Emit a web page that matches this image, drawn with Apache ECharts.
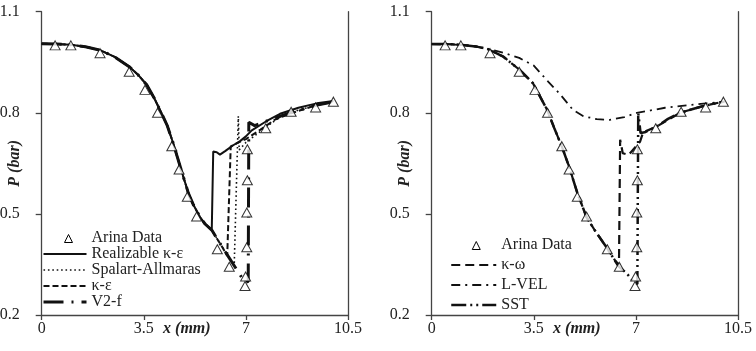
<!DOCTYPE html>
<html>
<head>
<meta charset="utf-8">
<script src="https://cdn.jsdelivr.net/npm/echarts@6/dist/echarts.min.js"></script>
<style>
html,body{margin:0;padding:0;background:#fff;}
#c{width:756px;height:351px;}
</style>
</head>
<body>
<div id="c"></div>
<script>
// ---- data ----
const xTicks = [0, 3.5, 7, 10.5];
const yTicks = [0.2, 0.5, 0.8, 1.1];

const arinaData = [
  [0.46,1.0],[1.0,1.0],[2.0,0.977],[3.0,0.922],[3.54,0.868],[3.97,0.80],[4.46,0.701],
  [4.71,0.632],[4.99,0.551],[5.31,0.492],[6.02,0.395],[6.43,0.343],[6.99,0.314],
  [6.97,0.286],[7.03,0.401],[7.03,0.504],[7.05,0.60],[7.05,0.692],[7.68,0.754],
  [8.55,0.803],[9.39,0.816],[10.0,0.833]
];

const realizableKE = [
  [0,1.005],[0.5,1.004],[1.0,1.002],[1.5,0.996],[2.0,0.986],[2.5,0.966],[3.0,0.937],
  [3.3,0.913],[3.6,0.883],[3.85,0.845],[4.1,0.80],[4.3,0.763],[4.5,0.712],[4.75,0.64],
  [5.03,0.561],[5.2,0.527],[5.43,0.49],[5.6,0.47],[5.83,0.452],[5.88,0.685],[6.0,0.683],
  [6.11,0.676],[6.3,0.687],[6.55,0.703],[6.8,0.716],[7.0,0.73],[7.2,0.748],[7.7,0.775],
  [8.17,0.797],[8.8,0.815],[9.43,0.828],[10.0,0.835]
];
const spalartAllmaras = [
  [0,1.005],[0.5,1.004],[1.0,1.002],[1.5,0.996],[2.0,0.986],[2.5,0.966],[3.0,0.937],
  [3.3,0.913],[3.6,0.883],[3.85,0.845],[4.1,0.80],[4.3,0.763],[4.5,0.712],[4.75,0.64],
  [5.03,0.561],[5.2,0.527],[5.43,0.49],[5.6,0.47],[5.83,0.452],[6.0,0.428],[6.35,0.38],
  [6.6,0.35],[6.74,0.79],[6.77,0.69],[7.0,0.712],[7.5,0.745],[8.2,0.79],[8.8,0.808],
  [9.4,0.822],[10.0,0.833]
];
const kEpsilon = [
  [0,1.005],[0.5,1.004],[1.0,1.002],[1.5,0.996],[2.0,0.986],[2.5,0.966],[3.0,0.937],
  [3.3,0.913],[3.6,0.883],[3.85,0.845],[4.1,0.80],[4.3,0.763],[4.5,0.712],[4.75,0.64],
  [5.03,0.561],[5.2,0.527],[5.43,0.49],[5.6,0.47],[5.83,0.452],[6.0,0.428],[6.2,0.40],
  [6.36,0.376],[6.48,0.70],[6.7,0.71],[7.0,0.722],[7.5,0.75],[8.0,0.78],[8.6,0.80],
  [9.4,0.822],[10.0,0.833]
];
const v2f = [
  [0,1.005],[0.5,1.004],[1.0,1.002],[1.5,0.996],[2.0,0.986],[2.5,0.966],[3.0,0.937],
  [3.3,0.913],[3.6,0.883],[3.85,0.845],[4.1,0.80],[4.3,0.763],[4.5,0.712],[4.75,0.64],
  [5.03,0.561],[5.2,0.527],[5.43,0.49],[5.6,0.47],[5.83,0.452],[6.0,0.428],[6.35,0.38],
  [6.69,0.334],[6.97,0.296],[7.08,0.30],[7.1,0.772],[7.3,0.762],[7.7,0.775],[8.5,0.80],
  [9.4,0.822],[10.0,0.833]
];

const kOmega = [
  [0,1.004],[0.5,1.004],[1.0,1.002],[1.5,0.997],[1.9,0.99],[2.45,0.967],[3.02,0.927],
  [3.47,0.888],[3.95,0.81],[4.2,0.755],[4.46,0.70],[4.71,0.64],[5.0,0.56],[5.31,0.49],
  [5.6,0.45],[6.0,0.40],[6.3,0.36],[6.42,0.35],[6.46,0.72],[6.55,0.68],[6.75,0.675],
  [7.14,0.714],[7.25,0.742],[7.71,0.759],[8.51,0.80],[9.31,0.82],[10.0,0.833]
];
const lVel = [
  [0,1.004],[1.0,1.002],[1.5,0.997],[2.0,0.988],[2.5,0.977],[3.0,0.963],[3.5,0.94],
  [4.0,0.892],[4.4,0.855],[4.85,0.808],[5.2,0.79],[5.66,0.781],[6.1,0.779],[6.6,0.787],
  [7.03,0.80],[7.5,0.807],[8.0,0.815],[8.5,0.82],[9.4,0.828],[10.05,0.833]
];
const sst = [
  [0,1.004],[0.5,1.004],[1.0,1.002],[1.5,0.997],[1.9,0.99],[2.45,0.967],[3.02,0.927],
  [3.47,0.888],[3.95,0.81],[4.2,0.755],[4.46,0.70],[4.71,0.64],[5.0,0.56],[5.31,0.49],
  [5.6,0.45],[6.0,0.40],[6.4,0.345],[6.68,0.324],[6.97,0.294],[7.05,0.292],[7.08,0.80],
  [7.14,0.80],[7.16,0.74],[7.3,0.742],[7.71,0.759],[8.1,0.782],[8.51,0.80],[9.31,0.82],
  [10.0,0.833]
];

const leftLegend = ['Arina Data','Realizable κ-ε','Spalart-Allmaras','κ-ε','V2-f'];
const rightLegend = ['Arina Data','κ-ω','L-VEL','SST'];

// ---- styling ----
const FONT = 'Liberation Serif';
const INK = '#111';
const AX = '#444';

function xAxisFor(gi) {
  return {
    type: 'value', gridIndex: gi, min: 0, max: 10.5, interval: 3.5,
    splitLine: {show: false},
    axisLine: {show: true, onZero: false, lineStyle: {color: AX, width: 1.3}},
    axisTick: {show: true, length: 5, customValues: xTicks, lineStyle: {color: AX, width: 1.3}},
    axisLabel: {margin: 6, fontFamily: FONT, fontSize: 16, color: '#222',
                customValues: xTicks, formatter: v => String(v)},
    name: 'x (mm)', nameLocation: 'middle', nameGap: 6, nameMoveOverlap: false,
    nameTextStyle: {fontFamily: FONT, fontSize: 16, fontWeight: 'bold', fontStyle: 'italic',
                    color: '#222', padding: [0, 16, 0, 0]}
  };
}
function yAxisFor(gi) {
  return {
    type: 'value', gridIndex: gi, min: 0.2, max: 1.1,
    splitLine: {show: false},
    axisLine: {show: true, onZero: false, lineStyle: {color: AX, width: 1.3}},
    axisTick: {show: true, length: 6, customValues: yTicks, lineStyle: {color: AX, width: 1.3}},
    axisLabel: {margin: 22, fontFamily: FONT, fontSize: 16, color: '#222',
                customValues: yTicks, formatter: v => v.toFixed(1)},
    name: 'P (bar)', nameLocation: 'middle', nameGap: 19, nameMoveOverlap: false,
    nameTextStyle: {fontFamily: FONT, fontSize: 16, fontWeight: 'bold', fontStyle: 'italic', color: '#222'}
  };
}
function borderAxisFor(gi) {
  return {
    type: 'value', gridIndex: gi, min: 0.2, max: 1.1, position: 'right',
    splitLine: {show: false},
    axisLine: {show: true, onZero: false, lineStyle: {color: AX, width: 1.3}},
    axisTick: {show: false}, axisLabel: {show: false}
  };
}
function lineSeries(name, data, gi, width, dash) {
  return {
    type: 'line', name: name, data: data, xAxisIndex: gi, yAxisIndex: gi * 2,
    symbol: 'none', smooth: false, animation: false, z: 2,
    itemStyle: {color: INK, opacity: 0},
    lineStyle: {color: INK, width: width, type: dash, opacity: 1}
  };
}
function scatterSeries(gi) {
  return {
    type: 'scatter', name: 'Arina Data', data: arinaData, xAxisIndex: gi, yAxisIndex: gi * 2,
    symbol: 'triangle', symbolSize: [10, 9], animation: false, z: 5,
    itemStyle: {color: '#fff', borderColor: '#000', borderWidth: 1}
  };
}
// legend icon: small triangle inside an invisible box the size of the legend icon
function triIcon(w, cx) {
  return 'path://M0,0M' + w + ',9M' + (cx - 4) + ',9L' + cx + ',1L' + (cx + 4) + ',9Z';
}
function legendFor(names, left, top, w, gap) {
  return {
    data: names.map(n => n === 'Arina Data'
      ? {name: n, icon: triIcon(w, 25), itemStyle: {color: '#fff', borderColor: '#000', borderWidth: 1, opacity: 1}}
      : {name: n}),
    orient: 'vertical', left: left, top: top, itemWidth: w, itemHeight: 9,
    itemGap: gap, selectedMode: false, padding: 0,
    textStyle: {fontFamily: FONT, fontSize: 16, color: '#222'},
    lineStyle: {width: 'inherit', type: 'inherit'}
  };
}

const chart = echarts.init(document.getElementById('c'), null, {renderer: 'canvas'});
chart.setOption({
  animation: false,
  backgroundColor: '#fff',
  grid: [
    {left: 41.7, right: 408, top: 11.7, bottom: 36, outerBoundsMode: 'none'},
    {left: 431.7, right: 18, top: 11.7, bottom: 36, outerBoundsMode: 'none'}
  ],
  xAxis: [xAxisFor(0), xAxisFor(1)],
  yAxis: [yAxisFor(0), borderAxisFor(0), yAxisFor(1), borderAxisFor(1)],
  legend: [
    legendFor(leftLegend, 42, 230, 43, 0),
    legendFor(rightLegend, 450, 237, 45, 4)
  ],
  series: [
    lineSeries('Realizable κ-ε', realizableKE, 0, 2, 'solid'),
    lineSeries('Spalart-Allmaras', spalartAllmaras, 0, 1.6, [1.6, 2.8]),
    lineSeries('κ-ε', kEpsilon, 0, 2, [6, 3]),
    lineSeries('V2-f', v2f, 0, 3, [20, 8, 2, 8]),
    scatterSeries(0),
    lineSeries('κ-ω', kOmega, 1, 2.2, [9, 5]),
    lineSeries('L-VEL', lVel, 1, 1.8, [9, 5, 2, 5]),
    lineSeries('SST', sst, 1, 2.5, [15, 4, 2, 4, 2, 4]),
    scatterSeries(1)
  ]
});
</script>
</body>
</html>
